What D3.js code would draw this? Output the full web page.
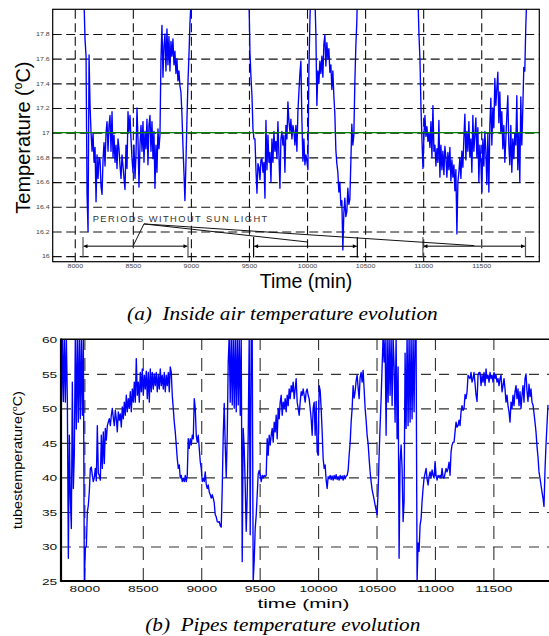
<!DOCTYPE html>
<html><head><meta charset="utf-8">
<script src="https://cdn.jsdelivr.net/npm/d3@7"></script>
<style>body{margin:0;background:#fff}svg{display:block}</style>
</head><body>
<svg id="c" width="549" height="636"></svg>
<script>
// ---------- DATA ----------
const airXTicks = [8000,8500,9000,9500,10000,10500,11000,11500];
const airYTicks = [16,16.2,16.4,16.6,16.8,17,17.2,17.4,17.6,17.8];
const airSetpoint = 17;
const airStep = 8.6; // sampling interval (min)
const airSeg1Start = 8080, airSeg2Start = 9500, airSeg3Start = 10955;
const airSeg1 = [18.05,17.75,17.62,16.5,16.2,17.63,17.22,17.0,16.85,17.0,
16.76,16.88,16.44,16.82,16.63,16.8,16.78,16.56,16.5,16.78,
16.92,16.73,17.0,17.09,16.85,17.06,17.14,16.85,17.17,16.8,
16.98,16.76,16.9,16.71,16.95,16.87,16.73,16.63,16.82,16.73,
16.63,16.54,16.9,16.71,17.17,17.01,17.14,16.95,16.79,16.68,
16.9,16.63,16.82,17.2,16.95,16.56,16.9,17.06,16.85,17.09,
16.76,17.01,16.87,17.11,16.74,17.06,17.14,16.85,17.09,16.79,
17.01,16.55,16.9,16.68,17.03,16.87,16.98,17.6,17.87,17.45,
17.7,17.8,17.5,17.84,17.55,17.78,17.5,17.74,17.62,17.76,
17.55,17.66,17.48,17.6,17.42,17.5,17.38,17.33,17.15,16.9,
16.68,16.45,16.75,17.1,17.4,17.62,17.88,18.05,18.3];
const airSeg2 = [18.1,17.65,17.45,17.3,17.03,16.95,16.95,16.7,16.51,16.75,
16.72,16.62,16.78,16.79,16.68,16.76,16.47,17.1,16.7,16.98,
16.76,16.84,16.6,16.95,16.76,17.01,16.85,16.93,16.79,17.09,
16.82,16.55,16.95,17.01,16.9,16.98,16.68,17.06,16.95,17.25,
17.09,17.01,17.11,16.95,17.06,17.01,16.9,17.06,16.85,17.17,
17.33,17.48,17.58,17.1,16.77,16.95,16.74,16.82,16.77,16.7,
17.5,17.9,18.2,18.3,18.3,18.3,18.1,17.8,17.22,17.5,
17.4,17.58,17.48,17.62,17.45,17.72,17.79,17.54,17.73,17.6,
17.68,17.49,17.55,17.35,17.5,17.3,17.15,16.86,16.75,16.68,
16.52,16.6,16.41,16.45,16.05,16.35,16.47,16.32,16.36,16.55,
16.42,16.46,16.76,17.07,16.9,16.98,17.4,17.7,17.9,18.3];
const airSeg3 = [18.1,17.8,17.6,17.22,16.95,16.71,16.98,17.14,16.97,17.05,
16.93,17.0,16.88,17.09,16.8,17.22,16.85,16.9,16.73,16.87,
16.76,17.1,16.64,16.9,16.7,16.85,16.66,16.89,16.8,16.64,
16.84,16.7,16.88,16.61,16.78,16.64,16.74,16.53,16.7,16.18,
16.6,16.68,16.8,16.63,16.85,16.72,16.96,17.15,16.78,17.01,
16.85,17.09,16.8,16.95,16.68,17.14,16.85,16.98,17.12,16.8,
17.04,16.6,16.9,16.76,16.52,16.95,16.73,17.01,16.85,16.58,
16.99,16.52,17.06,17.28,16.9,17.2,17.04,17.44,17.22,17.36,
17.49,17.08,17.33,17.0,17.17,16.87,17.06,16.76,16.95,17.14,
17.3,16.9,16.74,17.06,16.68,16.95,16.79,17.0,16.9,17.3,
16.7,17.0,16.6,17.29,16.9,17.2,17.53,17.5,17.87,18.1,18.3];
// periods without sun light (min)
const noSunStart = [8071, 9540, 10998];
const noSunEnd   = [8975, 10433, 11881];
const noSunLevel = 16.08;
const labelApex = [8596, 16.261];
const labelTargets = [[8500, 16.078],[10000, 16.115],[11440, 16.085]];

const pipeXTicks = [8000,8500,9000,9500,10000,10500,11000,11500];
const pipeYTicks = [25,30,35,40,45,50,55,60];
const pipeGridY = [30,35,40,45,50,55];
const pipeStart = 7803, pipeStep = 8.551;
const pipeTemp = [
50,60.5,51,60.5,50.9,60.5,51.2,28.3,46.1,37,
32.6,53.8,38.4,43.5,60.5,47,60.5,48,60.5,48.5,
60.5,49,60.5,25,29.8,30,35,36,38,41.3,
41.5,40.3,39.4,40,41.3,39.5,47.5,40.6,40.3,39.6,
46.1,41.3,46.6,42,47.1,45.4,47.5,48,48.5,47.5,
49,50,48.6,47.5,49.7,48.5,46.6,49.5,48.3,49.2,
47.3,50.2,48.5,50.9,49,51.9,49.5,51.4,50,52.4,
49.5,52.8,50.9,53.8,50.9,57.2,51.9,53.8,50.9,55.2,
52.4,55.7,51.9,54.8,52.8,55.4,51.4,55.2,50.9,55.7,
52.4,55.2,52.8,55,53.3,55.2,52.4,54.8,52.8,55.7,
53.3,54.8,52.8,55.2,52.4,54.8,53.3,55.2,52.4,56,
55.2,51.9,50,48,46.6,44.7,42.7,41.3,41.8,39.9,
40.3,39.4,39.9,39.4,40.3,39.4,40.3,45.6,44.2,45.6,
44.7,46.1,45.6,51.4,50,46.1,45.1,46.1,44.2,42.3,
41.3,39.4,39.9,39.4,40.8,39,38.4,38.9,37.9,37.5,
37,37.5,37,36.3,34.6,34.3,33.6,33.5,33.6,33,
32.8,38.4,46.1,50.7,44.7,40,46,56.7,60.5,50.9,
60.5,50.5,60.5,50,60.5,49.5,60.5,50.5,60.5,49,
60.5,27.8,47.1,44.2,38.9,32.2,37.5,46.1,60.5,31.7,
60.5,60.5,25,28,32.6,34.5,37.5,40.5,41,40.3,
39.4,40.3,39.9,40.3,40.1,40.3,45.6,43.2,46.1,44.7,
46.1,47.1,45.1,48,46.6,49,45.6,50,48.5,50.9,
51.9,49,50.9,50,51.4,49.5,51.9,50.4,52.8,51.4,
53.3,52.4,53.8,51.4,52.8,54.3,50.9,50,49,50.9,
52.4,51.9,52.8,51.9,50.9,52.4,52.8,51.9,51.4,50,
48.5,46.1,50,50.9,46.1,51,43.7,43.2,53.3,52.6,
50,46.6,42.7,41.3,41.8,39.6,38.4,40.1,39.8,40.3,
39.7,40.2,39.6,40.3,39.8,40.4,39.7,40.1,39.6,40.3,
39.8,40.2,39.6,40.3,39.8,40.2,40.3,41,43.2,45,
48,50,53.3,51.5,52.4,54,54.8,53,51.4,54.5,
55.2,53.8,55.5,52.8,50,48.3,46.1,44.9,42.7,40.8,
39.4,38.2,37.5,36.8,36,35.3,34.6,38,43.2,47.5,
51.4,56,60.5,56.7,60.5,46.1,60.5,50.9,60.5,51.9,
60.5,50.4,60.5,56.2,48,60.5,45.6,56,28.3,42.3,
44.7,41.3,33.6,36.5,58,47.1,60.5,47.5,60.5,48,
60.5,48.5,60.5,49.5,60.5,60.5,25,30.5,29.3,33.1,
34,36.5,38.4,39.9,40.6,41.3,39.8,38.9,40.1,40.8,
39.9,41.1,40.3,39.9,42.3,40.3,39.6,40.3,40,40.3,
39.9,41.3,40,39.9,40.6,41.3,40.8,41.3,42.2,40.3,
43.7,44.7,45.1,45.1,46.6,48,47.3,47.5,48.3,47.5,
49.5,50.4,49.7,50,52,51.4,52.4,54.8,54.5,54.3,
55.2,53.8,54.3,55.2,53.6,51.9,51,54.8,55.2,55.2,
53.3,54.8,53.8,55.2,53.3,55.7,54.3,54.8,53.8,55.2,
54.3,54.8,53.8,55.2,54.3,54.8,53.8,54.3,53.3,54.3,
54.8,52.4,53.3,54.3,52.8,50.9,51.9,50.4,49.5,48,
50.9,50,51.9,50.4,52.4,53.3,51.4,52.8,50.4,52.4,
50,51.9,53.3,50.9,54.3,55,52.5,51,53.5,51.7,
52.8,50.9,50.5,49.3,48,46.6,44.5,43,40.8,39.9,
38.9,37.9,37,35.8,41,44.7,47.6,50.5];

// ---------- DRAW ----------
const svg = d3.select("#c");
const sans = "'Liberation Sans', Arial, Helvetica, sans-serif";
const serif = "'Liberation Serif', 'Times New Roman', serif";
const toPts = (start, step, vals) => vals.map((v, i) => [start + i * step, v]);

const defs = svg.append("defs");
defs.append("clipPath").attr("id","clipA").append("rect")
  .attr("x",52.7).attr("y",9.3).attr("width",486.6).attr("height",252.4);
defs.append("clipPath").attr("id","clipB").append("rect")
  .attr("x",61).attr("y",339.3).attr("width",490.8).attr("height",241.7);
defs.append("marker").attr("id","arrBlack").attr("viewBox","0 0 6 6")
  .attr("refX",6).attr("refY",3).attr("markerWidth",5).attr("markerHeight",4)
  .attr("markerUnits","userSpaceOnUse").attr("orient","auto-start-reverse")
  .append("path").attr("d","M0,0L6,3L0,6Z").attr("fill","#000");

// ===== Chart (a) =====
const A = {l:52.7, r:539.3, t:9.3, b:261.7};
const xA = d3.scaleLinear().domain([7810,12000]).range([A.l, A.r]);
const yA = d3.scaleLinear().domain([15.955,18.0]).range([A.b, A.t]);
const gA = svg.append("g");

gA.append("g").attr("transform",`translate(0,${A.b})`)
  .call(d3.axisBottom(xA).tickValues(airXTicks).tickSize(-(A.b-A.t)).tickFormat(""))
  .call(g=>g.select(".domain").remove())
  .selectAll("line").attr("stroke","#111").attr("stroke-width",1.1).attr("stroke-dasharray","9,4.5");
gA.append("g").attr("transform",`translate(${A.l},0)`)
  .call(d3.axisLeft(yA).tickValues(airYTicks).tickSize(-(A.r-A.l)).tickFormat(""))
  .call(g=>g.select(".domain").remove())
  .selectAll("line").attr("stroke","#111").attr("stroke-width",1.1).attr("stroke-dasharray","9,4.5");

const lineA = d3.line().x(d=>xA(d[0])).y(d=>yA(d[1]));
[[airSeg1Start,airSeg1],[airSeg2Start,airSeg2],[airSeg3Start,airSeg3]].forEach(([s,v])=>{
  gA.append("path").attr("clip-path","url(#clipA)").attr("d",lineA(toPts(s,airStep,v)))
    .attr("fill","none").attr("stroke","#0000ff").attr("stroke-width",1.35).attr("stroke-linejoin","round");
});
gA.append("line").attr("x1",A.l).attr("x2",A.r).attr("y1",yA(airSetpoint)).attr("y2",yA(airSetpoint))
  .attr("stroke","#008000").attr("stroke-width",1.3);

gA.append("rect").attr("x",A.l).attr("y",A.t).attr("width",A.r-A.l).attr("height",A.b-A.t)
  .attr("fill","none").attr("stroke","#000").attr("stroke-width",1.2);

// tick labels
gA.append("g").attr("transform",`translate(0,${A.b})`)
  .call(d3.axisBottom(xA).tickValues(airXTicks).tickSize(0).tickFormat(d3.format("d")))
  .call(g=>g.select(".domain").remove())
  .selectAll("text").attr("y",6.6).attr("dy",0).attr("font-size",5.2).attr("font-family",sans)
  .attr("fill","#444").attr("transform","scale(1.35,1)");
gA.append("g").attr("transform",`translate(${A.l},0)`)
  .call(d3.axisLeft(yA).tickValues(airYTicks).tickSize(0).tickFormat(d=>String(+d.toFixed(1))))
  .call(g=>g.select(".domain").remove())
  .selectAll("text").attr("x",-2.2).attr("dy","0.35em").attr("font-size",5.2).attr("font-family",sans)
  .attr("fill","#444").attr("transform","scale(1.35,1)");

// annotation: periods without sun light
noSunStart.forEach((s,i)=>{
  const e = noSunEnd[i], y = yA(noSunLevel), col = i===1 ? "#000" : "#555";
  gA.append("line").attr("x1",xA(s)+0.5).attr("x2",xA(e)-0.5).attr("y1",y).attr("y2",y)
    .attr("stroke",col).attr("stroke-width",i===1?1:1.4)
    .attr("marker-start","url(#arrBlack)").attr("marker-end","url(#arrBlack)");
  [s,e].forEach(t=>{
    gA.append("line").attr("x1",xA(t)).attr("x2",xA(t)).attr("y1",yA(16.155)).attr("y2",yA(15.99))
      .attr("stroke",col).attr("stroke-width",1.2);
  });
});
labelTargets.forEach(p=>{
  gA.append("line").attr("x1",xA(labelApex[0])).attr("y1",yA(labelApex[1]))
    .attr("x2",xA(p[0])).attr("y2",yA(p[1])).attr("stroke","#111").attr("stroke-width",1);
});
gA.append("text").attr("x",92.7).attr("y",221.6).attr("font-family",sans).attr("font-size",9.3)
  .attr("letter-spacing",1.45).attr("fill","#333").text("PERIODS WITHOUT SUN LIGHT");

// axis titles
const ttlA = gA.append("text").attr("transform","translate(30,137.6) rotate(-90)")
  .attr("text-anchor","middle").attr("font-family",sans).attr("font-size",20).attr("fill","#000");
ttlA.append("tspan").text("Temperature (");
ttlA.append("tspan").attr("font-size",12).attr("dy",-8).text("o");
ttlA.append("tspan").attr("dy",8).text("C)");
gA.append("text").attr("x",306).attr("y",288).attr("text-anchor","middle")
  .attr("font-family",sans).attr("font-size",19.5).attr("fill","#000").text("Time (min)");

svg.append("text").attr("x",127.1).attr("y",320).attr("font-family",serif).attr("font-style","italic")
  .attr("font-size",19).attr("textLength",310.6).attr("lengthAdjust","spacingAndGlyphs")
  .attr("fill","#000").attr("xml:space","preserve").text("(a)  Inside air temperature evolution");

// ===== Chart (b) =====
const B = {l:61, r:551.8, t:339.3, b:581};
const xB = d3.scaleLinear().domain([7800,12000]).range([B.l, B.r]);
const yB = d3.scaleLinear().domain([25,60]).range([B.b, B.t]);
const gB = svg.append("g");

gB.append("g").attr("transform",`translate(0,${B.b})`)
  .call(d3.axisBottom(xB).tickValues(pipeXTicks).tickSize(-(B.b-B.t)).tickFormat(""))
  .call(g=>g.select(".domain").remove())
  .selectAll("line").attr("stroke","#333").attr("stroke-width",1.1).attr("stroke-dasharray","13,8");
gB.append("g").attr("transform",`translate(${B.l},0)`)
  .call(d3.axisLeft(yB).tickValues(pipeGridY).tickSize(-(B.r-B.l)).tickFormat(""))
  .call(g=>g.select(".domain").remove())
  .selectAll("line").attr("stroke","#333").attr("stroke-width",1.1).attr("stroke-dasharray","10,8");

const lineB = d3.line().x(d=>xB(d[0])).y(d=>yB(d[1]));
gB.append("path").attr("clip-path","url(#clipB)").attr("d",lineB(toPts(pipeStart,pipeStep,pipeTemp)))
  .attr("fill","none").attr("stroke","#0000ff").attr("stroke-width",1.35).attr("stroke-linejoin","round");

gB.append("line").attr("x1",B.l).attr("x2",B.r).attr("y1",B.t).attr("y2",B.t).attr("stroke","#000").attr("stroke-width",1.6);
gB.append("line").attr("x1",B.l).attr("x2",B.r).attr("y1",B.b).attr("y2",B.b).attr("stroke","#000").attr("stroke-width",1.8);
gB.append("line").attr("x1",B.l).attr("x2",B.l).attr("y1",B.t-0.8).attr("y2",B.b+0.9).attr("stroke","#000").attr("stroke-width",2.2);

gB.append("g").attr("transform",`translate(0,${B.b})`)
  .call(d3.axisBottom(xB).tickValues(pipeXTicks).tickSize(0).tickFormat(d3.format("d")))
  .call(g=>g.select(".domain").remove())
  .selectAll("text").attr("y",10.7).attr("dy",0).attr("font-size",9.5).attr("font-family",sans)
  .attr("fill","#111").attr("transform","scale(1.45,1)");
gB.append("g").attr("transform",`translate(${B.l},0)`)
  .call(d3.axisLeft(yB).tickValues(pipeYTicks).tickSize(0).tickFormat(d3.format("d")))
  .call(g=>g.select(".domain").remove())
  .selectAll("text").attr("x",-2.6).attr("dy","0.35em").attr("font-size",9.5).attr("font-family",sans)
  .attr("fill","#111").attr("transform","scale(1.45,1)");

const ttlB = gB.append("text").attr("transform","translate(21.5,460) rotate(-90) scale(1.2,1)")
  .attr("text-anchor","middle").attr("font-family",sans).attr("font-size",12).attr("fill","#000");
ttlB.append("tspan").text("tubestemperature(");
ttlB.append("tspan").attr("font-size",7.5).attr("dy",-4.5).text("o");
ttlB.append("tspan").attr("dy",4.5).text("C)");
gB.append("text").attr("transform","translate(303.4,608) scale(1.53,1)").attr("text-anchor","middle")
  .attr("font-family",sans).attr("font-size",13.5).attr("fill","#000").text("time (min)");

svg.append("text").attr("x",145.3).attr("y",631).attr("font-family",serif).attr("font-style","italic")
  .attr("font-size",19).attr("textLength",275).attr("lengthAdjust","spacingAndGlyphs")
  .attr("fill","#000").attr("xml:space","preserve").text("(b)  Pipes temperature evolution");
</script>
</body></html>
